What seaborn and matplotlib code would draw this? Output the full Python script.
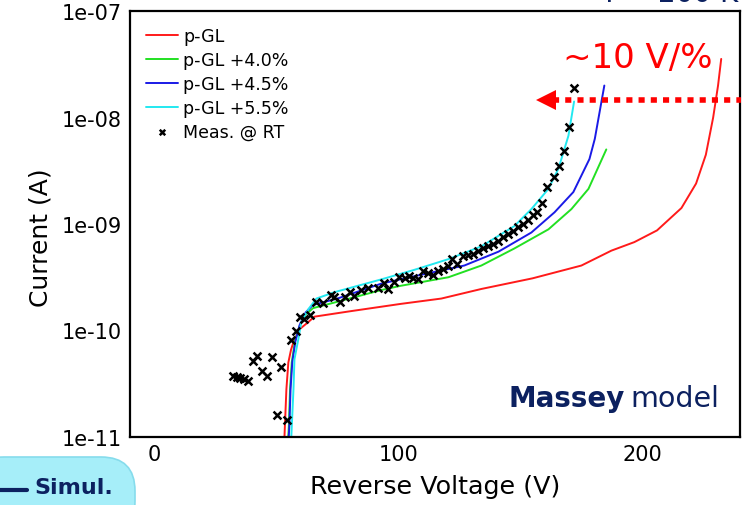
import numpy as np
import pandas as pd
import matplotlib
matplotlib.use("Agg")
import matplotlib.pyplot as plt
import seaborn as sns
from matplotlib.ticker import FuncFormatter, MultipleLocator, LogLocator, NullFormatter
from matplotlib.patches import FancyBboxPatch

# ---------------- data (voltage in V, log10 of current in A) ----------------
red_V = [52.8, 53.3, 54.1, 54.9, 56.0, 57.0, 59.4, 63.1, 65.6, 80, 101, 117.6, 134, 155, 175,
         187.3, 196.7, 206, 216, 222, 226, 229, 231, 232.3]
red_logI = [-11.1, -11.0, -10.55, -10.30, -10.18, -10.11, -9.99, -9.92, -9.87, -9.82, -9.75, -9.70,
            -9.61, -9.51, -9.39, -9.25, -9.17, -9.06, -8.85, -8.62, -8.35, -8.0, -7.7, -7.45]

green_V = [54.6, 55.1, 55.6, 56.3, 57.6, 59.5, 62, 65, 75, 93, 101, 120.5, 134, 147.5, 161.5,
           170.9, 177.9, 185.2]
green_logI = [-11.1, -10.9, -10.55, -10.3, -10.1, -9.96, -9.85, -9.79, -9.73, -9.62, -9.58, -9.50,
              -9.39, -9.23, -9.05, -8.86, -8.67, -8.30]

blue_V = [54.8, 55.3, 55.8, 56.5, 57.8, 59.5, 62, 65, 75, 93, 106.6, 127, 141, 154.5, 164, 171.7,
          178.3, 180.5, 184.4]
blue_logI = [-11.1, -10.9, -10.55, -10.3, -10.1, -9.95, -9.83, -9.76, -9.70, -9.56, -9.49, -9.39,
             -9.26, -9.08, -8.89, -8.70, -8.39, -8.20, -7.70]

cyan_V = [55.8, 56.1, 56.6, 57.0, 57.4, 59.0, 60.2, 63.1, 66.4, 73.8, 93, 106.6, 120.5, 134, 147.5,
          154.5, 161.5, 165.6, 169.7, 172.0]
cyan_logI = [-11.1, -11.0, -10.75, -10.55, -10.27, -10.08, -9.92, -9.80, -9.70, -9.64, -9.52, -9.43,
             -9.33, -9.21, -9.02, -8.86, -8.67, -8.48, -8.17, -7.85]

meas_V = [32.4, 34.0, 35.2, 36.9, 38.5, 40.6, 42.2, 44.3, 46.3, 48.4, 52.0, 50.4, 54.5, 56.1, 58.2,
          59.8, 61.5, 63.9, 66.4, 68.9, 72.5, 73.8, 76.2, 78.3, 80.3, 82.0, 84.8, 87.7, 91.8, 94.3,
          95.9, 98.4, 100.4, 102.5, 104.5, 106.1, 108.2, 110.2, 112.3, 114.3, 116.4, 118.4, 120.5,
          122.1, 124.2, 126.6, 128.7, 130.7, 132.8, 134.8, 136.9, 138.9, 141.0, 143.0, 145.1,
          147.1, 149.2, 151.2, 153.3, 155.3, 157.0, 159.0, 161.1, 163.9, 166.0, 168.0, 170.1, 172.1]
meas_logI = [-10.43, -10.44, -10.45, -10.46, -10.47, -10.29, -10.24, -10.38, -10.43, -10.25, -10.34,
             -10.79, -10.84, -10.09, -10.00, -9.87, -9.89, -9.85, -9.73, -9.74, -9.67, -9.69, -9.73,
             -9.69, -9.64, -9.68, -9.62, -9.60, -9.60, -9.55, -9.61, -9.54, -9.50, -9.51, -9.49,
             -9.51, -9.52, -9.44, -9.46, -9.48, -9.44, -9.42, -9.39, -9.33, -9.38, -9.30, -9.29,
             -9.28, -9.25, -9.23, -9.21, -9.19, -9.16, -9.12, -9.09, -9.07, -9.03, -9.00, -8.96,
             -8.92, -8.89, -8.80, -8.65, -8.56, -8.46, -8.31, -8.09, -7.72]

series_names = ["p-GL", "p-GL +4.0%", "p-GL +4.5%", "p-GL +5.5%"]
series_colors = ["#ff1a1a", "#22e022", "#1a1ae6", "#22e8f0"]
meas_label = "Meas. @ RT"

y_ticks = [1e-11, 1e-10, 1e-9, 1e-8, 1e-7]
x_ticks = [0, 100, 200]

# ---------------- build frames ----------------
curves = [(red_V, red_logI), (green_V, green_logI), (blue_V, blue_logI), (cyan_V, cyan_logI)]
frames = []
for name, (v, l) in zip(series_names, curves):
    frames.append(pd.DataFrame({"V": v, "I": 10.0 ** np.array(l), "series": name}))
df = pd.concat(frames, ignore_index=True)
meas = pd.DataFrame({"V": meas_V, "I": 10.0 ** np.array(meas_logI)})

# ---------------- figure ----------------
sns.set_style("white")
plt.rcParams["font.family"] = ["DejaVu Sans"]
for k in ["text.color", "axes.labelcolor", "xtick.color", "ytick.color"]:
    plt.rcParams[k] = "black"
navy = "#0c2160"

fig = plt.figure(figsize=(7.43, 5.06), dpi=100)
ax = fig.add_axes([130 / 743, 1 - 438 / 506, 610 / 743, 426 / 506])

for name, col in zip(series_names, series_colors):
    sns.lineplot(data=df[df["series"] == name], x="V", y="I", color=col, lw=1.4,
                 label=name, ax=ax, sort=False, estimator=None)
sns.scatterplot(data=meas, x="V", y="I", marker="x", color="black", s=32, linewidth=1.8,
                label=meas_label, ax=ax, zorder=5)

ax.set_yscale("log")
ax.set_xlim(-10, 240)
ax.set_ylim(1e-11, 1e-7)
ax.set_yticks(y_ticks)
ax.yaxis.set_major_formatter(FuncFormatter(lambda v, p: f"{v:.0e}"))
ax.yaxis.set_minor_locator(LogLocator(base=10, subs=np.arange(2, 10)))
ax.yaxis.set_minor_formatter(NullFormatter())
ax.set_xticks(x_ticks)
ax.xaxis.set_minor_locator(MultipleLocator(20))

ax.tick_params(axis="both", which="major", direction="in", length=7, width=1.0,
               labelsize=15, top=False, right=False, pad=6, colors="black")
ax.tick_params(axis="both", which="minor", direction="in", length=4, width=0.8,
               top=False, right=False, colors="black")
ax.tick_params(axis="x", which="major", pad=5)
for s in ax.spines.values():
    s.set_color("black")
    s.set_linewidth(1.6)

ax.set_xlabel("Reverse Voltage (V)", fontsize=18.3, labelpad=7, color="black")
ax.set_ylabel("Current (A)", fontsize=18, color="black")
ax.yaxis.set_label_coords(-0.127, 0.47)

leg = ax.legend(loc="upper left", frameon=False, fontsize=12.5, handlelength=1.8,
                handletextpad=0.3, labelspacing=0.33, borderaxespad=0.55,
                borderpad=0.4, markerscale=0.7)

# arrow (dotted) and annotation
y_arrow = 10 ** -7.84
ax.plot([163.5, 240.6], [y_arrow, y_arrow], color="red", lw=4, ls=(0, (1.1, 1.1)),
        solid_capstyle="butt", dash_capstyle="butt", clip_on=False, zorder=6)
ax.plot([160.3], [y_arrow], marker="<", ms=15, color="red", mew=0, zorder=6)
ax.text(0.833, 0.892, "~10 V/%", transform=ax.transAxes, color="red", fontsize=24.5,
        ha="center", va="center")

ax.text(625 / 743, 1 - 407 / 506, "Massey", transform=fig.transFigure, color=navy,
        fontsize=20, fontweight="bold", ha="right", va="baseline")
ax.text(630 / 743, 1 - 407 / 506, "model", transform=fig.transFigure, color=navy,
        fontsize=20.5, ha="left", va="baseline")

# top title fragment (cropped in reference)
fig.text(738 / 743, 1 - 2 / 506, "T = 200 K", color=navy, fontsize=20, ha="right",
         va="baseline")

# "Simul." button
btn = FancyBboxPatch((-0.3, -0.3), 1.65, 0.78, boxstyle="round,pad=0,rounding_size=0.34",
                     transform=fig.dpi_scale_trans, facecolor="#a6eef9",
                     edgecolor="#86dcec", lw=1.2, zorder=10)
fig.patches.append(btn)
fig.lines.append(plt.Line2D([0.0, 0.27], [0.15, 0.15], transform=fig.dpi_scale_trans,
                            color=navy, lw=3, zorder=11))
fig.text(0.34, 0.12, "Simul.", transform=fig.dpi_scale_trans, color=navy, fontsize=16,
         fontweight="bold", ha="left", va="baseline", zorder=12)

fig.savefig("out.png", dpi=100)
